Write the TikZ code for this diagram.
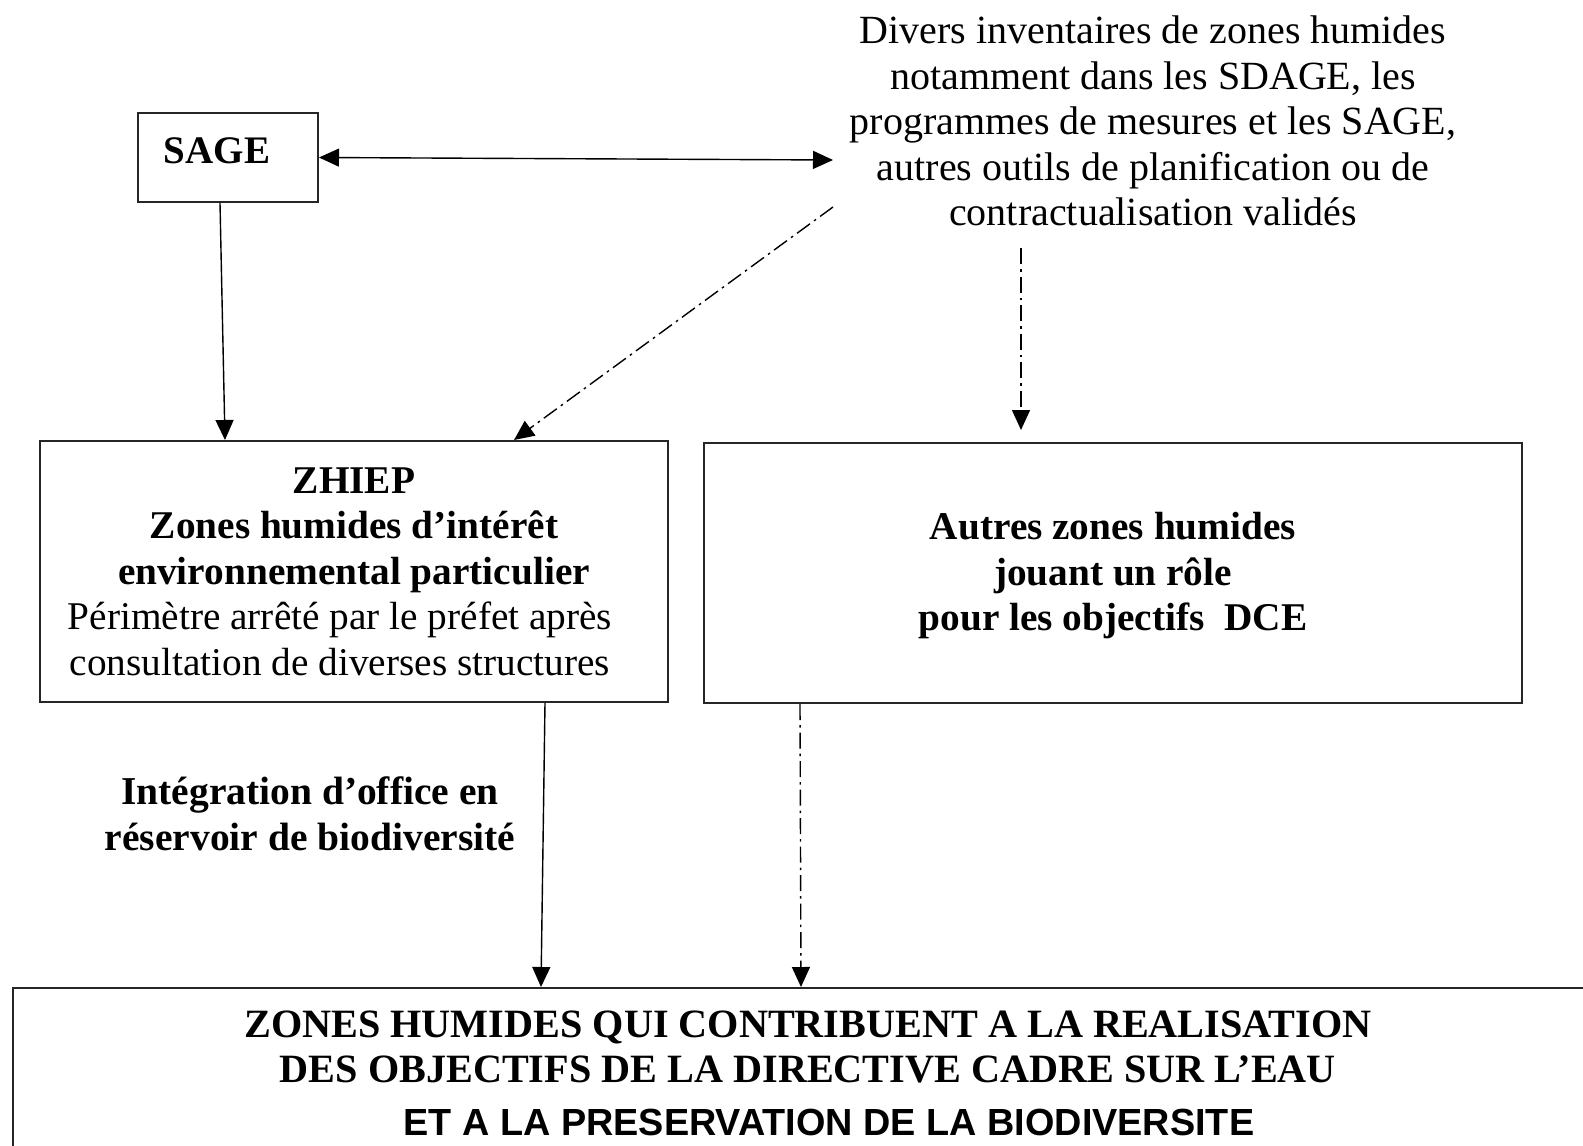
\documentclass[tikz,border=0pt]{standalone}
\usepackage{fontspec}
\setmainfont{Liberation Serif}
\newfontfamily\sansb{Liberation Sans}
\usetikzlibrary{arrows.meta,calc}
\begin{document}
\begin{tikzpicture}[x=1pt,y=-1pt,
  box/.style={draw=black!85,line width=2pt,inner sep=0pt,align=center},
  conn/.style={line width=1.4pt,-{Triangle[length=20pt,width=18pt]}},
  dconn/.style={line width=1.4pt,{Triangle[length=20pt,width=18pt]}-{Triangle[length=20pt,width=18pt]}},
  dashdotline/.style={dash pattern=on 16pt off 5pt on 2.5pt off 5pt},
  txtfont/.style={font=\fontsize{39.3}{45.5}\selectfont},
  txt/.style={txtfont,align=center,inner sep=0pt}]
\useasboundingbox (0,0) rectangle (1583,1146);
\clip (0,0) rectangle (1583,1146);

\node[box,minimum width=180pt,minimum height=89pt,font=\bfseries\fontsize{39}{45}\selectfont] (sage) at (228,157.5) {\hspace*{-22pt}\raisebox{7pt}[\height][\depth]{SAGE}};

\node[txt,font=\fontsize{40}{45.5}\selectfont] (div) at (1153,121) {Divers inventaires de zones humides\\notamment dans les SDAGE, les\\programmes de mesures et les SAGE,\\autres outils de planification ou de\\contractualisation validés};

\node[box,txtfont,minimum width=628pt,minimum height=261pt] (zhiep) at (354,571.5)
  {\textbf{ZHIEP}\\\textbf{Zones humides d’intérêt}\\\textbf{environnemental particulier}\\\hspace*{-28pt}Périmètre arrêté par le préfet après\\\hspace*{-28pt}consultation de diverses structures};

\node[box,txtfont,minimum width=818pt,minimum height=260pt] (autres) at (1113,573)
  {\raisebox{-3pt}[\height][\depth]{\textbf{Autres zones humides}}\\\raisebox{-3pt}[\height][\depth]{\textbf{jouant un rôle}}\\\raisebox{-3pt}[\height][\depth]{\textbf{pour les objectifs\ \ DCE}}};

\node[box,minimum width=1600pt,minimum height=200pt,anchor=north west] (zh) at (12,987) {};
\node[txt,font=\bfseries\fontsize{40.2}{45.5}\selectfont] (zhtxt) at (808,1073)
  {ZONES HUMIDES QUI CONTRIBUENT A LA REALISATION\\DES OBJECTIFS DE LA DIRECTIVE CADRE SUR L’EAU\\[7pt]\hspace*{42pt}{\sansb\bfseries\fontsize{37.8}{45.5}\selectfont ET A LA PRESERVATION DE LA BIODIVERSITE}};

\node[txt,font=\bfseries\fontsize{39.5}{46}\selectfont] (integ) at (310,814)
  {Intégration d’office en\\réservoir de biodiversité};

\coordinate (divl) at (833,160);
\coordinate (divd) at (833,207);
\coordinate (divb) at (1021,248);
\coordinate (autresin) at (1021,430);

\draw[dconn] (sage.east) -- (divl);
\draw[conn] ([xshift=-8pt]sage.south) -- ([xshift=186pt]zhiep.north west);
\draw[conn,dashdotline] (divd) -- ([xshift=475pt]zhiep.north west);
\draw[conn,dashdotline] (divb) -- (autresin);
\draw[conn] ([xshift=-124pt]zhiep.south east) -- (zh.north west -| 541,0);
\draw[conn,dashdotline] ([xshift=97pt]autres.south west) -- (zh.north west -| 801,0);
\end{tikzpicture}
\end{document}
